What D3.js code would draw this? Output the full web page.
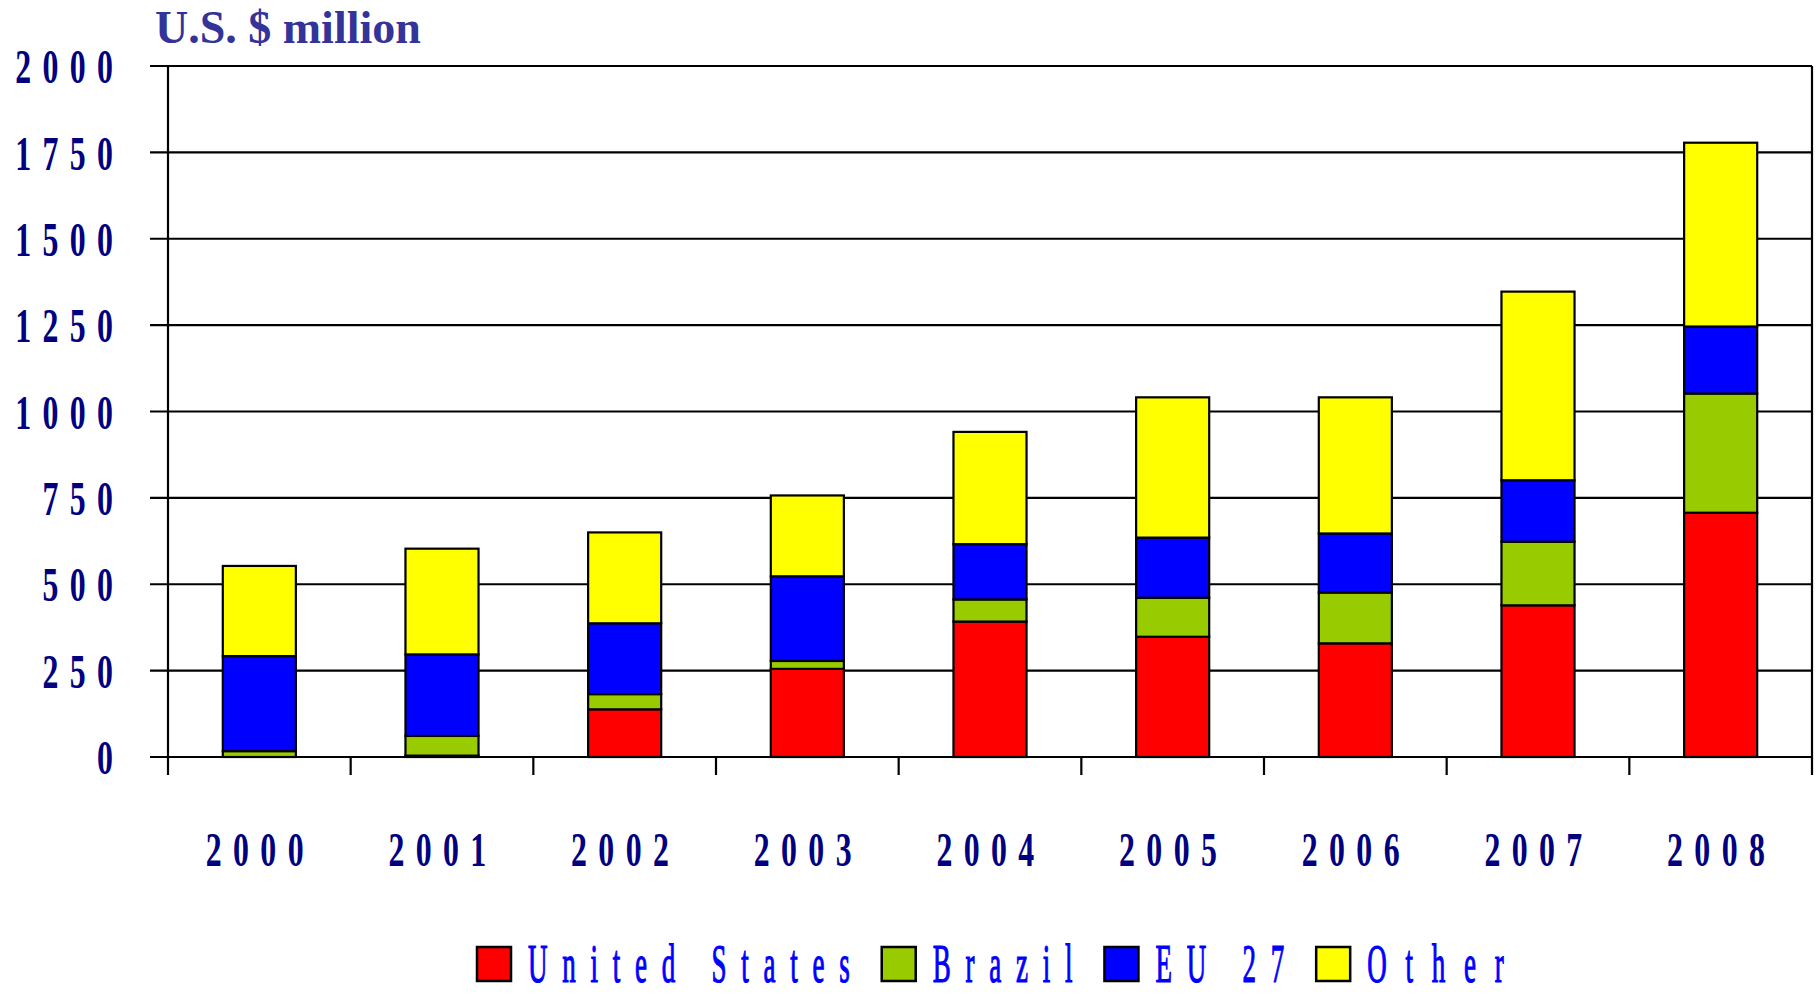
<!DOCTYPE html>
<html>
<head>
<meta charset="utf-8">
<script src="https://cdn.jsdelivr.net/npm/d3@7"></script>
<style>
  body { margin: 0; background: #ffffff; }
  svg { display: block; }
</style>
</head>
<body>
<div id="vis"></div>
<script>
// chart data
const YEARS = ["2000", "2001", "2002", "2003", "2004", "2005", "2006", "2007", "2008"];
const SERIES = ["United States", "Brazil", "EU 27", "Other"];
const US_VALUES = [0, 4, 138, 255, 392, 348, 329, 439, 707];
const BRAZIL_VALUES = [17, 57, 44, 23, 64, 113, 147, 184, 345];
const EU_VALUES = [275, 236, 205, 245, 160, 174, 171, 178, 194];
const OTHER_VALUES = [261, 306, 263, 234, 325, 406, 394, 546, 532];
const Y_TICKS = [0, 250, 500, 750, 1000, 1250, 1500, 1750, 2000];
const COLORS = ["#ff0000", "#99cc00", "#0000ff", "#ffff00"];

// frame
const FRAME_WIDTH = 1816;
const FRAME_HEIGHT = 995;
const PLOT = {left: 168, right: 1812, top: 66, bottom: 757};

const SVG = d3.select("#vis")
              .append("svg")
                .attr("width", FRAME_WIDTH)
                .attr("height", FRAME_HEIGHT);

// build the table d3.stack wants
const rows = YEARS.map((yr, i) => {
  return {year: yr, "United States": US_VALUES[i], "Brazil": BRAZIL_VALUES[i],
          "EU 27": EU_VALUES[i], "Other": OTHER_VALUES[i]};
});
const stacked = d3.stack().keys(SERIES)(rows);

// scales
const X_SCALE = d3.scaleBand()
                  .domain(YEARS)
                  .range([PLOT.left, PLOT.right])
                  .paddingInner(0.6)
                  .paddingOuter(0.3);
const Y_SCALE = d3.scaleLinear()
                  .domain([0, 2000])
                  .range([PLOT.bottom, PLOT.top]);
const COLOR = d3.scaleOrdinal().domain(SERIES).range(COLORS);

// horizontal gridlines (they poke out left of the axis like ticks)
SVG.append("g")
   .selectAll("line")
   .data(Y_TICKS)
   .enter()
   .append("line")
     .attr("x1", PLOT.left - 18)
     .attr("x2", PLOT.right)
     .attr("y1", (d) => { return Y_SCALE(d); })
     .attr("y2", (d) => { return Y_SCALE(d); })
     .attr("stroke", "#000")
     .attr("stroke-width", 2.2);

// condensed, letter spaced tick labels
const TICK_FONT = 49;
const TICK_SQUEEZE = 0.65;
const TICK_SPACING = 17.5;

const yAxis = SVG.append("g")
   .attr("transform", "translate(" + PLOT.left + ",0)")
   .call(d3.axisLeft(Y_SCALE).tickValues(Y_TICKS).tickFormat(d3.format("d"))
           .tickSize(0).tickPadding(0));
yAxis.select(".domain").remove();
yAxis.selectAll("text")
     .attr("x", null)
     .attr("dy", "0.34em")
     .attr("transform", "translate(" + (-55 + TICK_SPACING * TICK_SQUEEZE) + ",0) scale(" + TICK_SQUEEZE + ",1)")
     .attr("font-family", "'Liberation Serif', 'Times New Roman', serif")
     .attr("font-weight", "bold")
     .attr("font-size", TICK_FONT)
     .attr("letter-spacing", TICK_SPACING)
     .attr("fill", "#000080");

// left and right frame lines, running down through the tick area
SVG.append("g")
   .selectAll("line")
   .data([PLOT.left, PLOT.right])
   .enter()
   .append("line")
     .attr("x1", (d) => { return d; })
     .attr("x2", (d) => { return d; })
     .attr("y1", PLOT.top)
     .attr("y2", PLOT.bottom + 18)
     .attr("stroke", "#000")
     .attr("stroke-width", 2.2);

// x axis: labels at band centres, ticks at band boundaries
const xAxis = SVG.append("g")
   .attr("transform", "translate(0," + PLOT.bottom + ")")
   .call(d3.axisBottom(X_SCALE).tickSize(0).tickPadding(0));
xAxis.select(".domain").remove();
xAxis.selectAll("text")
     .attr("y", null)
     .attr("dy", null)
     .attr("transform", "translate(1,109) scale(" + TICK_SQUEEZE + ",1)")
     .attr("font-family", "'Liberation Serif', 'Times New Roman', serif")
     .attr("font-weight", "bold")
     .attr("font-size", TICK_FONT)
     .attr("letter-spacing", TICK_SPACING)
     .attr("fill", "#000080");

const halfGap = X_SCALE.step() * X_SCALE.paddingOuter();
SVG.append("g")
   .selectAll("line")
   .data(YEARS.slice(1))
   .enter()
   .append("line")
     .attr("x1", (d) => { return X_SCALE(d) - halfGap; })
     .attr("x2", (d) => { return X_SCALE(d) - halfGap; })
     .attr("y1", PLOT.bottom)
     .attr("y2", PLOT.bottom + 18)
     .attr("stroke", "#000")
     .attr("stroke-width", 2.2);

// stacked bars
SVG.append("g")
   .selectAll("g")
   .data(stacked)
   .enter()
   .append("g")
     .attr("fill", (d) => { return COLOR(d.key); })
   .selectAll("rect")
   .data((d) => { return d; })
   .enter()
   .append("rect")
     .attr("x", (d) => { return X_SCALE(d.data.year); })
     .attr("y", (d) => { return Y_SCALE(d[1]); })
     .attr("width", X_SCALE.bandwidth())
     .attr("height", (d) => { return Y_SCALE(d[0]) - Y_SCALE(d[1]); })
     .attr("stroke", "#000")
     .attr("stroke-width", 2.2);

// x axis line on top of the bar bottoms
SVG.append("line")
   .attr("x1", PLOT.left - 18)
   .attr("x2", PLOT.right)
   .attr("y1", Y_SCALE(0))
   .attr("y2", Y_SCALE(0))
   .attr("stroke", "#000")
   .attr("stroke-width", 2.2);

// unit title
SVG.append("text")
   .attr("x", 155)
   .attr("y", 43)
   .attr("font-family", "'Liberation Serif', 'Times New Roman', serif")
   .attr("font-weight", "bold")
   .attr("font-size", 46)
   .attr("fill", "#333399")
   .text("U.S. $ million");

// legend along the bottom
const LEG_FONT = 54;
const LEG_SQUEEZE = 0.5;
const LEG_SPACING = 29.5;
const LEG_BASE = 982;
const legend = SVG.append("g");
let legX = 477;
SERIES.forEach((name, i) => {
  const item = legend.append("g").attr("transform", "translate(" + legX + ",0)");
  item.append("rect")
      .attr("x", 0)
      .attr("y", LEG_BASE - 35)
      .attr("width", 34)
      .attr("height", 34)
      .attr("fill", COLOR(name))
      .attr("stroke", "#000")
      .attr("stroke-width", 2.5);
  const label = item.append("text")
      .attr("transform", "translate(51," + LEG_BASE + ") scale(" + LEG_SQUEEZE + ",1)")
      .attr("font-family", "'Liberation Serif', 'Times New Roman', serif")
      .attr("font-size", LEG_FONT)
      .attr("letter-spacing", name === "Other" ? LEG_SPACING + 8 : LEG_SPACING)
      .attr("fill", "#0000ff")
      .attr("stroke", "#0000ff")
      .attr("stroke-width", 1.2)
      .text(name);
  const w = label.node().getComputedTextLength() * LEG_SQUEEZE;
  legX += 51 + w - LEG_SPACING * LEG_SQUEEZE + 32;
});
</script>
</body>
</html>
